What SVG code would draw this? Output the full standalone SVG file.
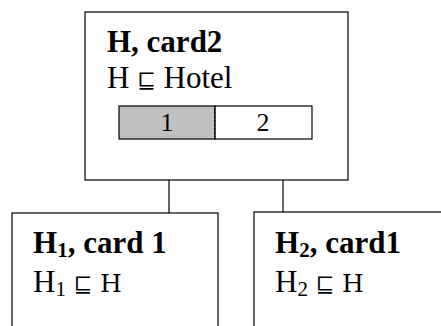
<svg xmlns="http://www.w3.org/2000/svg" width="441" height="326" viewBox="0 0 441 326">
<style>
.box{fill:#fff;stroke:#000;stroke-width:1.2}
.t{font-family:"Liberation Serif","Times New Roman",serif;fill:#000}
.b{font-weight:bold}
.h{font-size:31px}
.d{font-size:26px}
.sym{font-family:"DejaVu Serif",serif;font-size:22px;font-weight:normal}
.m{font-family:"DejaVu Serif",serif;font-weight:normal}
.c{stroke:#000;stroke-width:1.2;fill:none}
</style>
<rect width="441" height="326" fill="#fff"/>
<g id="connectors">
<line class="c" x1="169" y1="158" x2="169" y2="213"/>
<line class="c" x1="283" y1="158" x2="283" y2="212"/>
</g>
<g id="node-H">
<rect class="box" x="85" y="12" width="263" height="168"/>
<text class="t b h" x="107" y="52">H, card2</text>
<text class="t h" x="107" y="88">H <tspan class="sym">⊑</tspan> Hotel</text>
<rect x="119" y="106" width="96" height="33" fill="#c0c0c0" stroke="#000" stroke-width="1.2"/>
<rect x="215" y="106" width="97" height="33" fill="#fff" stroke="#000" stroke-width="1.2"/>
<line x1="215" y1="106" x2="215" y2="139" stroke="#000" stroke-width="1.2" stroke-dasharray="1,1"/>
<text class="t d" x="167" y="131" text-anchor="middle">1</text>
<text class="t d" x="263" y="131" text-anchor="middle">2</text>
</g>
<g id="node-H1">
<rect class="box" x="12" y="213" width="206" height="120"/>
<text class="t b h" x="33" y="253">H<tspan font-size="21" dy="4">1</tspan><tspan dy="-4">, card 1</tspan></text>
<text class="t h" x="33" y="292">H<tspan font-size="21" dy="4">1</tspan><tspan dy="-4"> </tspan><tspan class="sym">⊑</tspan> <tspan class="m" font-size="25">H</tspan></text>
</g>
<g id="node-H2">
<rect class="box" x="254" y="212" width="200" height="120"/>
<text class="t b h" x="275" y="253">H<tspan font-size="21" dy="4">2</tspan><tspan dy="-4">, card1</tspan></text>
<text class="t h" x="275" y="292">H<tspan font-size="21" dy="4">2</tspan><tspan dy="-4"> </tspan><tspan class="sym">⊑</tspan> <tspan class="m" font-size="25">H</tspan></text>
</g>
</svg>
